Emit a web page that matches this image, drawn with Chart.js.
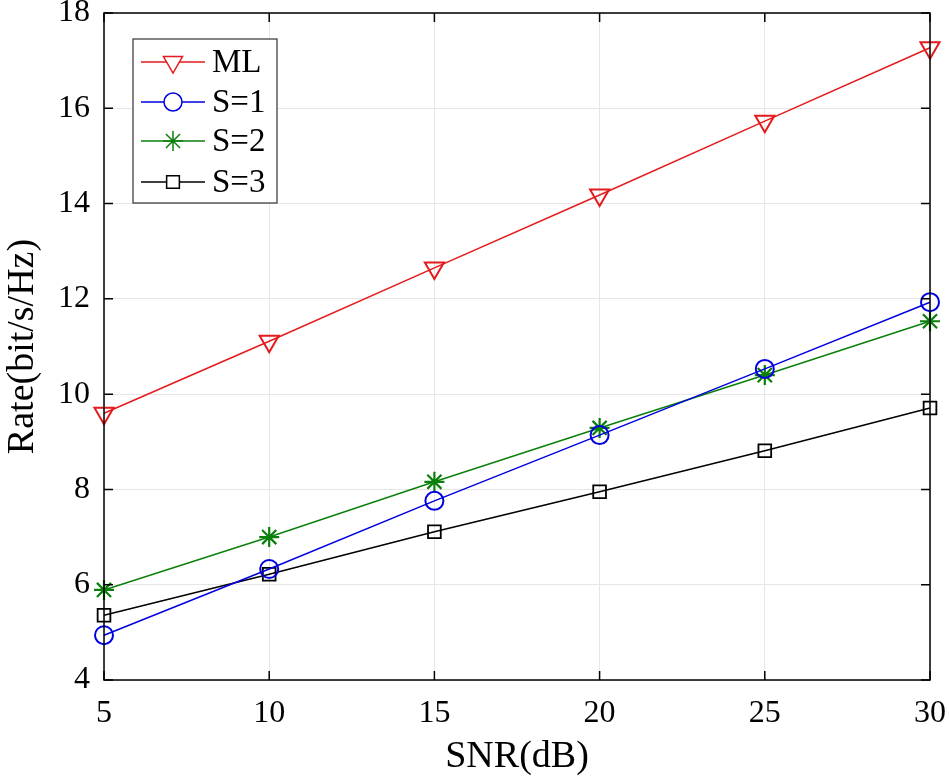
<!DOCTYPE html>
<html>
<head>
<meta charset="utf-8">
<script src="https://cdn.jsdelivr.net/npm/chart.js@4.4.1/dist/chart.umd.min.js"></script>
<style>
  body { margin: 0; background: #fff; }
  #wrap { width: 949px; height: 780px; }
</style>
</head>
<body>
<div id="wrap"><canvas id="myChart"></canvas></div>
<script>
var snr = [5, 10, 15, 20, 25, 30];
var rate_ml = [9.60, 11.11, 12.65, 14.18, 15.73, 17.27];
var rate_s1 = [4.94, 6.33, 7.76, 9.14, 10.53, 11.93];
var rate_s2 = [5.89, 7.00, 8.16, 9.29, 10.40, 11.53];
var rate_s3 = [5.36, 6.22, 7.11, 7.95, 8.81, 9.71];
var series_labels = ["ML", "S=1", "S=2", "S=3"];

var serif = "'Liberation Serif', 'DejaVu Serif', serif";

function pts(vals) {
  return snr.map(function (x, i) { return { x: x, y: vals[i] }; });
}

// box, inward ticks, legend inside the plot
var framePlugin = {
  id: 'frame',
  afterDraw: function (chart) {
    var c = chart.ctx, a = chart.chartArea;
    var xs = chart.scales.x, ys = chart.scales.y;
    c.save();
    c.strokeStyle = '#000';
    c.lineWidth = 1.5;
    c.strokeRect(a.left, a.top, a.right - a.left, a.bottom - a.top);
    c.beginPath();
    xs.ticks.forEach(function (t) {
      var px = xs.getPixelForValue(t.value);
      c.moveTo(px, a.bottom); c.lineTo(px, a.bottom - 9);
      c.moveTo(px, a.top); c.lineTo(px, a.top + 9);
    });
    ys.ticks.forEach(function (t) {
      var py = ys.getPixelForValue(t.value);
      c.moveTo(a.left, py); c.lineTo(a.left + 9, py);
      c.moveTo(a.right, py); c.lineTo(a.right - 9, py);
    });
    c.stroke();

    // legend
    var bx = 133, by = 39, bw = 144, bh = 164;
    c.fillStyle = '#fff';
    c.fillRect(bx, by, bw, bh);
    c.lineWidth = 1.2;
    c.strokeStyle = '#333';
    c.strokeRect(bx, by, bw, bh);
    var rows = [62, 102, 141, 182];
    chart.data.datasets.forEach(function (ds, i) {
      var y = rows[i];
      c.strokeStyle = ds.borderColor;
      c.lineWidth = ds.borderWidth;
      c.beginPath();
      c.moveTo(141, y); c.lineTo(205, y);
      c.stroke();
      c.fillStyle = '#fff';
      Chart.helpers.drawPoint(c, {
        pointStyle: ds.pointStyle,
        rotation: ds.pointRotation || 0,
        radius: ds.pointRadius,
        borderWidth: ds.pointBorderWidth
      }, 173, y);
      c.fillStyle = '#000';
      c.font = "33px " + serif;
      c.textAlign = 'left';
      c.textBaseline = 'middle';
      c.fillText(ds.label, 212, y + 1);
    });
    c.restore();
  }
};

function noPad(s) {
  s.paddingTop = 0; s.paddingBottom = 0;
  s.paddingLeft = 0; s.paddingRight = 0;
}

var ctx = document.getElementById("myChart");
var myChart = new Chart(ctx, {
  type: 'line',
  data: {
    datasets: [
      {
        data: pts(rate_ml),
        label: series_labels[0],
        borderColor: "#e41a1c",
        pointBorderColor: "#e41a1c",
        pointStyle: 'triangle',
        pointRotation: 180,
        pointRadius: 11,
        pointBorderWidth: 2,
        borderWidth: 1.5,
        fill: false
      },
      {
        data: pts(rate_s1),
        label: series_labels[1],
        borderColor: "#0000e0",
        pointBorderColor: "#0000e0",
        pointStyle: 'circle',
        pointRadius: 9,
        pointBorderWidth: 2,
        borderWidth: 1.5,
        fill: false
      },
      {
        data: pts(rate_s2),
        label: series_labels[2],
        borderColor: "#0a800a",
        pointBorderColor: "#0a800a",
        pointStyle: 'star',
        pointRadius: 10,
        pointBorderWidth: 2.2,
        borderWidth: 1.5,
        fill: false
      },
      {
        data: pts(rate_s3),
        label: series_labels[3],
        borderColor: "#000000",
        pointBorderColor: "#000000",
        pointStyle: 'rect',
        pointRadius: 9,
        pointBorderWidth: 1.8,
        borderWidth: 1.5,
        fill: false
      }
    ]
  },
  options: {
    maintainAspectRatio: false,
    responsive: true,
    animation: false,
    clip: false,
    layout: { padding: { left: 0, right: 19, top: 12, bottom: 0 } },
    elements: {
      line: { tension: 0 },
      point: { backgroundColor: 'rgba(0,0,0,0)' }
    },
    plugins: {
      legend: { display: false },
      tooltip: { enabled: false }
    },
    scales: {
      x: {
        type: 'linear',
        min: 5,
        max: 30,
        ticks: { stepSize: 5, color: '#000', font: { family: serif, size: 32 }, padding: 14 },
        grid: { color: '#e6e6e6', drawTicks: false },
        border: { display: false },
        title: { display: true, text: 'SNR(dB)', color: '#000', font: { family: serif, size: 38 }, padding: { top: 8, bottom: 0 } },
        afterFit: function (s) { s.height = 100; noPad(s); }
      },
      y: {
        min: 4,
        max: 18,
        ticks: { stepSize: 2, color: '#000', font: { family: serif, size: 32 }, padding: 14 },
        grid: { color: '#e6e6e6', drawTicks: false },
        border: { display: false },
        title: { display: true, text: 'Rate(bit/s/Hz)', color: '#000', font: { family: serif, size: 38 }, padding: { top: 0, bottom: 6 } },
        afterFit: function (s) { s.width = 104; noPad(s); }
      }
    }
  },
  plugins: [framePlugin]
});
</script>
</body>
</html>
